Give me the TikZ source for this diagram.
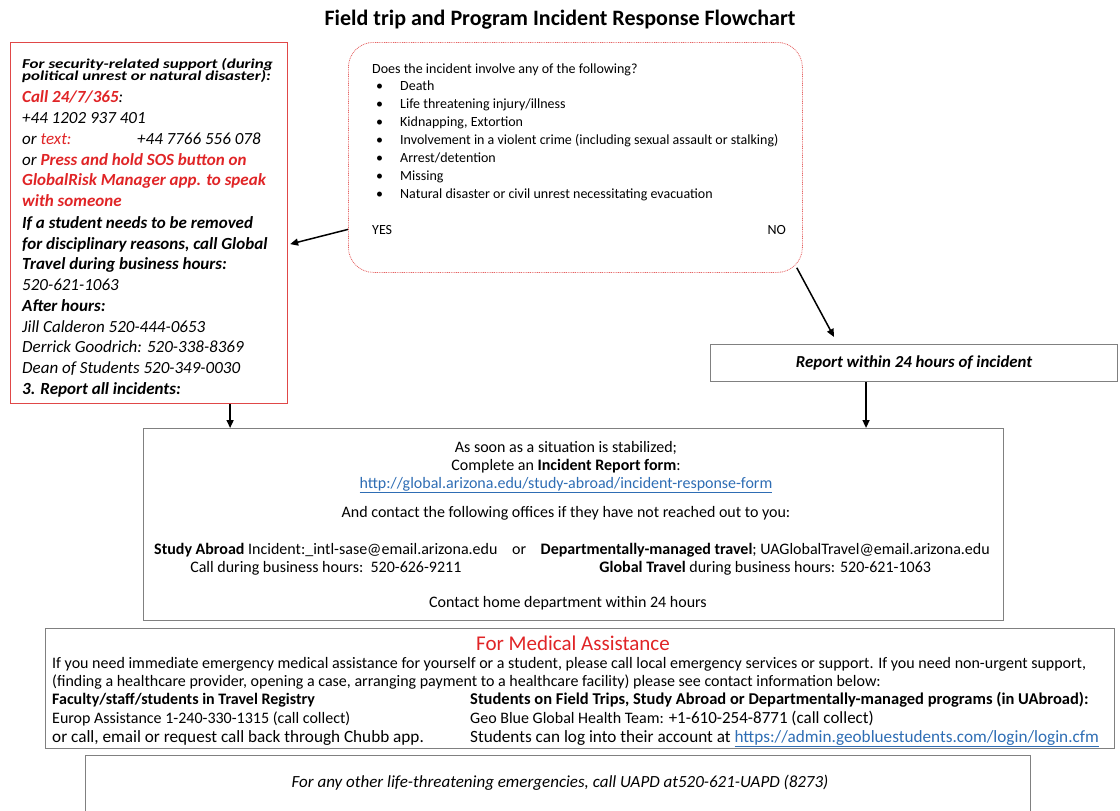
\documentclass[tikz,border=0pt]{standalone}
\usepackage{fontspec}
\setmainfont{Carlito}
\usetikzlibrary{arrows.meta,calc}
\definecolor{alertred}{HTML}{E02426}
\definecolor{linkblue}{HTML}{2E6DB4}
\definecolor{boxgray}{HTML}{808080}
\definecolor{framered}{HTML}{E04848}
\newcommand{\fsz}[1]{\fontsize{#1pt}{#1pt}\selectfont}
\begin{document}
\begin{tikzpicture}[x=1pt,y=-1pt,
  panel/.style={draw=boxgray, line width=1.1pt, anchor=north west, inner sep=0pt},
  arr/.style={-{Triangle[length=8pt,width=7pt]}, line width=1.5pt},
  txt/.style={anchor=base west, inner sep=0pt},
  ctxt/.style={anchor=base, inner sep=0pt},
  rtxt/.style={txt, font=\fsz{17}\itshape},
  btxt/.style={txt, font=\fsz{17}\bfseries\itshape},
  qtxt/.style={txt, font=\fsz{14}},
  mtxt/.style={ctxt, font=\fsz{16}},
  medt/.style={txt, font=\fsz{16}},
]
\useasboundingbox (0,0) rectangle (1120,811);
\clip (0,0) rectangle (1120,811);

% title
\node[font=\fsz{22}\bfseries] (title) at (560,20) {Field trip and Program Incident Response Flowchart};

% boxes
\node[panel, draw=framered, line width=1.2pt, minimum width=277pt, minimum height=361pt] (sec) at (10,42) {};
\node[panel, draw=framered!85, line width=0.8pt, dash pattern=on 0.9pt off 0.9pt, rounded corners=25pt, minimum width=454pt, minimum height=230pt] (q) at (348,42) {};
\node[panel, minimum width=407pt, minimum height=37pt, font=\fsz{16.8}\bfseries\itshape] (rep) at (710,344) {Report within 24 hours of incident};
\node[panel, minimum width=860pt, minimum height=192pt] (mid) at (143,428) {};
\node[panel, minimum width=1069pt, minimum height=120pt] (med) at (45,628) {};
\node[panel, minimum width=945pt, minimum height=70pt] (uapd) at (85,755) {};

% red box text
\node[btxt] (s1) at (22,68) {\scalebox{1}[0.8]{For security-related support (during}};
\node[btxt] (s2) at (22,80) {\scalebox{1}[0.8]{political unrest or natural disaster):}};
\node[btxt] (s3) at (22,102) {\textcolor{alertred}{Call 24/7/365}\mdseries:};
\node[rtxt] (s4) at (22,123) {+44 1202 937 401};
\node[rtxt] (s5) at (22,144) {or \textcolor{alertred}{text:}};
\node[rtxt] (s5b) at (137,144) {+44 7766 556 078};
\node[rtxt] (s6) at (22,165) {or \textcolor{alertred}{\bfseries Press and hold SOS button on}};
\node[btxt, text=alertred] (s7) at (22,185) {GlobalRisk Manager app. to speak};
\node[btxt, text=alertred] (s8) at (22,206) {with someone};
\node[btxt] (s9) at (22,228) {If a student needs to be removed};
\node[btxt] (s10) at (22,249) {for disciplinary reasons, call Global};
\node[btxt] (s11) at (22,269) {Travel during business hours:};
\node[rtxt] (s12) at (22,290) {520-621-1063};
\node[btxt] (s13) at (22,311) {After hours:};
\node[rtxt] (s14) at (22,332) {Jill Calderon 520-444-0653};
\node[rtxt] (s15) at (22,352) {Derrick Goodrich: 520-338-8369};
\node[rtxt] (s16) at (22,373) {Dean of Students 520-349-0030};
\node[btxt] (s17) at (22,394) {3. Report all incidents:};

% question box text
\node[qtxt] (q0) at (372,73) {Does the incident involve any of the following?};
\foreach \t [count=\i] in {Death, Life threatening injury/illness, {Kidnapping, Extortion}, Involvement in a violent crime (including sexual assault or stalking), Arrest/detention, Missing, Natural disaster or civil unrest necessitating evacuation}{
  \node[qtxt] (qb\i) at (376,73+17.9*\i) {\textbullet};
  \node[qtxt] (qi\i) at (400,73+17.9*\i) {\t};
}
\node[qtxt] (yes) at (372,234) {YES};
\node[qtxt, anchor=base east] (no) at (786,234) {NO};

% middle box text
\node[mtxt] (m1) at (566,452) {As soon as a situation is stabilized;};
\node[mtxt] (m2) at (566,470) {Complete an \textbf{Incident Report form}:};
\node[mtxt, text=linkblue] (m3) at (566,488) {\underline{http://global.arizona.edu/study-abroad/incident-response-form}};
\node[mtxt] (m4) at (566,517) {And contact the following offices if they have not reached out to you:};
\node[txt, font=\fsz{16}] (sa) at (154,554) {\textbf{Study Abroad} Incident:\_intl-sase@email.arizona.edu};
\node[txt, anchor=base east, font=\fsz{16}] (dm) at (990,554) {\textbf{Departmentally-managed travel}; UAGlobalTravel@email.arizona.edu};
\node[ctxt, font=\fsz{16}] (or) at ($(sa.base east)!0.5!(dm.base west)$) {or};
\node[mtxt] (sa2) at ([yshift=-18pt]sa.base) {Call during business hours:\ \ 520-626-9211};
\node[mtxt] (dm2) at ([yshift=-18pt]dm.base) {\textbf{Global Travel} during business hours: 520-621-1063};
\node[mtxt] (m7) at (568,607) {Contact home department within 24 hours};

% medical box text
\node[ctxt, font=\fsz{21}, text=alertred] (medt) at (573,650) {For Medical Assistance};
\node[medt] (md1) at (52,668) {If you need immediate emergency medical assistance for yourself or a student, please call local emergency services or support. If you need non-urgent support,};
\node[medt] (md2) at (52,686) {(finding a healthcare provider, opening a case, arranging payment to a healthcare facility) please see contact information below:};
\node[medt, font=\fsz{16}\bfseries] (fa) at (52,704) {Faculty/staff/students in Travel Registry};
\node[medt] (eu) at (52,723) {Europ Assistance 1-240-330-1315 (call collect)};
\node[medt, font=\fsz{17.2}] (ch) at (52,742) {or call, email or request call back through Chubb app.};
\node[medt, font=\fsz{16.5}\bfseries] (st) at (470,704) {Students on Field Trips, Study Abroad or Departmentally-managed programs (in UAbroad):};
\node[medt] (gb) at (470,723) {Geo Blue Global Health Team: {\fsz{17}+1-610-254-8771 (call collect)}};
\node[medt, font=\fsz{17.2}] (lg) at (470,742) {Students can log into their account at \textcolor{linkblue}{\underline{https://admin.geobluestudents.com/login/login.cfm}}};

% bottom box text
\node[ctxt, font=\fsz{17}\itshape] (ua) at (560,787) {For any other life-threatening emergencies, call UAPD at520-621-UAPD (8273)};

% connectors
\draw[arr, shorten >=2pt] ([yshift=-72pt]q.west) -- ([yshift=-21.5pt]sec.east);
\draw[arr] ([xshift=-6pt,yshift=5pt]q.south east) -- ([xshift=-80pt,yshift=7pt]rep.north);
\draw[arr] ([xshift=-48pt]rep.south) -- ([xshift=-48pt]rep.south |- mid.north);
\draw[arr] ([xshift=81pt]sec.south) -- ([xshift=81pt]sec.south |- mid.north);
\end{tikzpicture}
\end{document}
